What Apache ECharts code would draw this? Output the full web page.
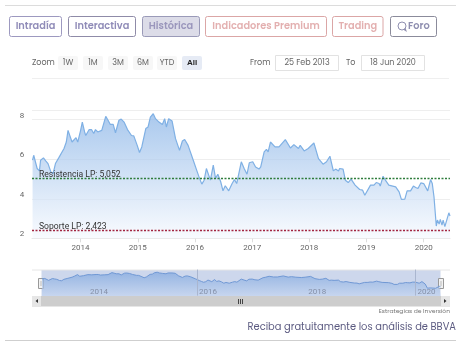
<!DOCTYPE html>
<html><head><meta charset="utf-8">
<style>html,body{margin:0;padding:0;background:#fff}#c{width:469px;height:351px}</style>
<script src="https://cdn.jsdelivr.net/npm/echarts@6/dist/echarts.min.js"></script>
</head><body><div id="c"></div>
<script>
const years = [2013.16,2013.18,2013.21,2013.24,2013.28,2013.30,2013.35,2013.39,2013.43,2013.48,2013.52,2013.56,2013.62,2013.65,2013.71,2013.75,2013.78,2013.81,2013.85,2013.88,2013.92,2013.95,
2014.00,2014.03,2014.07,2014.09,2014.15,2014.19,2014.23,2014.26,2014.30,2014.37,2014.44,2014.48,2014.52,2014.57,2014.61,2014.67,2014.71,2014.76,2014.82,2014.89,2014.93,2014.99,
2015.03,2015.07,2015.14,2015.18,2015.22,2015.27,2015.31,2015.37,2015.43,2015.47,2015.50,2015.54,2015.60,2015.66,2015.73,2015.78,2015.82,2015.88,2015.91,2015.97,
2016.04,2016.08,2016.12,2016.16,2016.20,2016.23,2016.27,2016.32,2016.36,2016.40,2016.45,2016.49,2016.53,2016.59,2016.65,2016.69,2016.73,2016.76,2016.81,2016.86,2016.91,2016.95,
2017.01,2017.06,2017.09,2017.12,2017.15,2017.21,2017.25,2017.28,2017.32,2017.40,2017.47,2017.58,2017.67,2017.73,2017.81,2017.84,2017.91,2017.98,
2018.00,2018.08,2018.16,2018.24,2018.30,2018.36,2018.42,2018.46,2018.51,2018.53,2018.59,2018.63,2018.68,2018.73,2018.80,2018.88,2018.93,2018.97,
2019.00,2019.07,2019.13,2019.17,2019.22,2019.24,2019.29,2019.33,2019.39,2019.51,2019.57,2019.61,2019.67,2019.71,2019.77,2019.82,2019.86,2019.90,2019.95,
2020.00,2020.07,2020.12,2020.15,2020.18,2020.22,2020.24,2020.27,2020.29,2020.32,2020.34,2020.37,2020.39,2020.44,2020.46];
const prices = [5.95,6.2,6.1,5.53,5.41,5.95,6.07,5.92,5.78,5.36,5.28,5.78,6.08,6.0,6.54,6.87,7.46,7.46,6.87,6.92,7.09,6.87,
7.46,7.88,7.38,7.2,7.5,7.5,7.3,7.5,7.38,7.46,8.17,7.97,7.76,7.76,7.34,7.97,8.03,7.88,7.5,7.2,7.18,6.7,
6.34,6.62,7.55,7.63,8.13,8.3,8.05,7.88,7.76,8.05,7.63,8.05,7.93,7.04,6.45,6.92,7.0,6.7,6.79,5.95,
5.36,5.03,4.74,4.94,5.53,5.53,4.94,5.7,5.03,5.24,4.86,4.4,4.66,4.4,4.77,4.97,4.77,4.8,5.87,5.53,5.24,5.82,
5.87,5.61,5.66,5.5,5.61,6.37,6.5,6.37,6.87,6.62,6.62,6.99,6.57,6.74,6.54,6.7,6.42,6.54,
6.5,6.82,6.03,5.75,5.87,6.15,5.41,5.5,5.41,5.53,5.5,4.94,4.82,4.99,4.69,4.47,4.44,4.18,
4.15,4.69,4.69,4.82,4.77,4.64,5.14,4.94,4.69,4.6,4.35,3.97,3.98,4.4,4.4,4.64,4.57,4.52,4.8,
4.77,4.4,4.97,4.77,4.1,2.62,2.92,2.72,2.96,2.67,2.92,2.59,2.62,3.29,3.13];
const yearTicks = [2014,2015,2016,2017,2018,2019,2020];
const navYearTicks = [2014,2016,2018,2020];
const navLines = [2016,2020];
const resistance = 5.052, support = 2.423;
const resistanceLabel = 'Resistencia LP: 5,052', supportLabel = 'Soporte LP: 2,423';
const tabs = ['Intradía','Interactiva','Histórica','Indicadores Premium','Trading','Foro'];
const ranges = ['1W','1M','3M','6M','YTD','All'];
const fromDate = '25 Feb 2013', toDate = '18 Jun 2020';

const series = years.map((y,i)=>[y,prices[i]]);
const UI = 'Poppins, Inter, "Open Sans", sans-serif';
const CH = 'Roboto, "Open Sans", sans-serif';
const g = [];
const line=(x1,y,x2,c)=>g.push({type:'line',shape:{x1,y1:y,x2,y2:y},style:{stroke:c,lineWidth:1},silent:true});
const rect=(x,y,w,h,fill,stroke,r)=>g.push({type:'rect',shape:{x,y,width:w,height:h,r:r||0},style:{fill:fill||'transparent',stroke:stroke||null,lineWidth:1},silent:true});
const text=(x,y,t,o)=>g.push({type:'text',x,y,style:Object.assign({text:t,verticalAlign:'middle',fontFamily:UI,fontSize:8,fill:'#666'},o),silent:true});

line(5,5.5,456,'#dcdcdc');
const tabBoxes=[[9.5,52,'#9d99c0','#908cb8',null],[68.5,67,'#8f8ba8','#908cb8',null],[142.5,57,'#9a9ab8','#9a96bc','#dcdce8'],[205.5,121,'#dba6a6','#e3b0b0',null],[332.5,50.5,'#dba6a6','#e3b0b0',null],[390.5,46,'#8b8b9b','#8f8fb0',null]];
tabBoxes.forEach((b,i)=>{
  rect(b[0],16.5,b[1],20,b[4],b[2],2);
  const foro=i===5;
  text(foro?408:b[0]+b[1]/2,26.5,tabs[i],{align:foro?'left':'center',fontSize:9.8,fontWeight:600,fill:b[3]});
});
g.push({type:'circle',shape:{cx:402,cy:26,r:4},style:{fill:'transparent',stroke:'#8f8fb0',lineWidth:1},silent:true});
g.push({type:'polygon',shape:{points:[[403,29.5],[407,32],[405.5,28]]},style:{fill:'#8f8fb0'},silent:true});

text(32,63,'Zoom',{fontSize:8,fill:'#666'});
[[58,20],[83,20],[108,20],[133,20],[157,20],[182,20]].forEach((b,i)=>{
  const on=i===5;
  rect(b[0],56,b[1],14,on?'#e6ebf5':'#f7f7f7',null,2);
  text(b[0]+b[1]/2,63,ranges[i],{align:'center',fontSize:8,fontWeight:on?'bold':'normal',fontFamily:on?'Liberation Sans':UI,fill:on?'#222':'#666'});
});
text(250,63,'From',{fontSize:8});
rect(275.5,55.5,63,15,'#fff','#e2e2e2');
text(307,62.5,fromDate,{align:'center',fontSize:8});
text(346,63,'To',{fontSize:8});
rect(361.5,55.5,63,15,'#fff','#e2e2e2');
text(393,62.5,toDate,{align:'center',fontSize:8});
line(32,78.5,449,'#efefef');

line(32,270,450,'#e6e6e6');
[41,441].forEach(x=>{
  rect(x-2.5,278.5,5,10,'#f2f2f2','#999');
  g.push({type:'line',shape:{x1:x,y1:281,x2:x,y2:286},style:{stroke:'#bbb'},silent:true});
});
rect(32,296,418,10.5,'#cdcdcd');
rect(32,296,9,10.5,'#e6e6e6');
rect(441,296,9,10.5,'#e6e6e6');
g.push({type:'polygon',shape:{points:[[38,299],[38,303],[35.5,301]]},style:{fill:'#333'},silent:true});
g.push({type:'polygon',shape:{points:[[444,299],[444,303],[446.5,301]]},style:{fill:'#333'},silent:true});
[238.5,240.5,242.5].forEach(x=>g.push({type:'line',shape:{x1:x,y1:299,x2:x,y2:304},style:{stroke:'#444'},silent:true}));

text(450,311,'Estrategias de Inversión',{align:'right',fontSize:6,fill:'#777'});
text(456,327.5,'Reciba gratuitamente los análisis de BBVA',{align:'right',fontSize:9.9,fill:'#5b5a80'});
line(5,340.5,456,'#cfcfcf');

const chart = echarts.init(document.getElementById('c'),null,{renderer:'canvas',width:469,height:351});
const markLabel=(t)=>({show:true,formatter:t,position:'insideStartTop',distance:[7,-1.5],color:'#333',fontFamily:CH,fontSize:8.6});
chart.setOption({
  animation:false,
  backgroundColor:'#fff',
  graphic:{elements:g},
  grid:[
    {left:32,right:19,top:109.8,height:128.5},
    {left:41.5,right:28.5,top:270,height:26,show:true,backgroundColor:'#cdd7ec',borderWidth:0}
  ],
  xAxis:[
    {type:'value',gridIndex:0,min:2013.15,max:2020.46,
     axisLine:{show:true,lineStyle:{color:'#e6e6e6'}},
     axisTick:{show:true,length:4,lineStyle:{color:'#ddd'},customValues:yearTicks},
     axisLabel:{customValues:yearTicks,formatter:v=>String(v),color:'#666',fontFamily:CH,fontSize:8,margin:6},
     splitLine:{show:false}},
    {type:'value',gridIndex:1,min:2013.15,max:2020.46,z:6,
     axisLine:{show:false},
     axisTick:{show:true,inside:true,length:26,lineStyle:{color:'#aab6cf'},customValues:navLines},
     axisLabel:{inside:true,customValues:navYearTicks,formatter:v=>String(v),color:'#8590a8',fontFamily:CH,fontSize:8,margin:0,align:'center',padding:[0,0,0,22]},
     splitLine:{show:false}}
  ],
  yAxis:[
    {type:'value',gridIndex:0,min:2,max:8.5,interval:2,
     axisLine:{show:false},axisTick:{show:false},
     axisLabel:{color:'#666',fontFamily:CH,fontSize:8,margin:10,align:'center',verticalAlign:'bottom',
       customValues:[2,4,6,8],formatter:v=>String(v)},
     splitLine:{show:true,lineStyle:{color:'#eeeeee'}}},
    {type:'value',gridIndex:1,min:-0.15,max:9.1,show:false,splitLine:{show:false}}
  ],
  series:[
    {type:'line',xAxisIndex:0,yAxisIndex:0,data:series,symbol:'none',smooth:false,
     lineStyle:{color:'#7fb0e4',width:1.2},
     areaStyle:{origin:'start',color:new echarts.graphic.LinearGradient(0,0,0,1,[{offset:0,color:'#86b2e6'},{offset:1,color:'#f6f9fe'}])},
     markLine:{silent:true,symbol:'none',animation:false,data:[
       {yAxis:resistance,lineStyle:{color:'#2f7d3c',type:[2,1.5],width:1.3},label:markLabel(resistanceLabel)},
       {yAxis:support,lineStyle:{color:'#a3243f',type:[2,1.5],width:1.3},label:markLabel(supportLabel)}
     ]}},
    {type:'line',xAxisIndex:1,yAxisIndex:1,data:series,symbol:'none',z:1,
     lineStyle:{color:'#7098d4',width:1},
     areaStyle:{origin:'start',color:new echarts.graphic.LinearGradient(0,0,0,1,[{offset:0,color:'#7ea6de'},{offset:1,color:'#c4d5f0'}])}}
  ]
});
</script></body></html>
